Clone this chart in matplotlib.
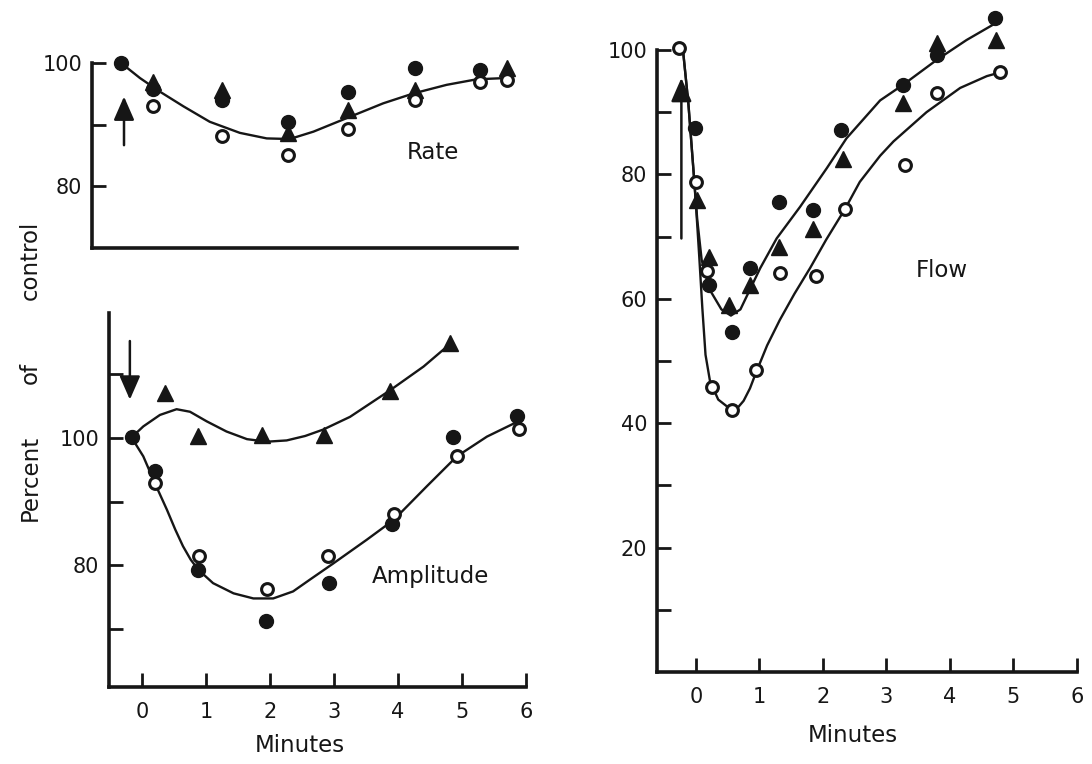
import matplotlib
matplotlib.use("Agg")
import matplotlib.pyplot as plt

# ------------------------------------------------------------
# Percent of control vs minutes: Rate, Amplitude, Flow
# values
# ------------------------------------------------------------

# --- Rate (top left) ---
rate_t_filled = [-0.32, 0.18, 1.25, 2.29, 3.22, 4.27, 5.28]
rate_filled = [100.0, 95.8, 94.1, 90.5, 95.4, 99.2, 98.9]
rate_t_tri = [0.18, 1.25, 2.29, 3.22, 4.27, 5.70]
rate_tri = [97.0, 95.7, 88.7, 92.4, 95.7, 99.2]
rate_t_open = [0.18, 1.25, 2.29, 3.22, 4.27, 5.28, 5.70]
rate_open = [93.0, 88.2, 85.1, 89.3, 94.1, 97.0, 97.3]
rate_curve_t = [-0.32, -0.03, 0.28, 0.65, 1.06, 1.53, 1.95, 2.31, 2.68, 3.20,
                3.77, 4.24, 4.76, 5.23, 5.67]
rate_curve = [100.0, 97.6, 95.4, 93.0, 90.5, 88.7, 87.8, 87.7, 88.9, 91.1,
              93.5, 95.1, 96.5, 97.4, 97.6]
rate_arrow = [-0.28, 86.7, 94.6]  # x, tail, tip

# --- Amplitude (bottom left) ---
amp_t_tri = [0.36, 0.88, 1.87, 2.84, 3.87, 4.82]
amp_tri = [107.1, 100.3, 100.5, 100.4, 107.4, 114.9]
amp_t_filled = [-0.16, 0.21, 0.87, 1.93, 2.92, 3.91, 4.86, 5.86]
amp_filled = [100.1, 94.8, 79.2, 71.2, 77.3, 86.5, 100.1, 103.4]
amp_t_open = [0.21, 0.89, 1.95, 2.91, 3.93, 4.92, 5.89]
amp_open = [92.9, 81.4, 76.3, 81.4, 88.1, 97.1, 101.4]
amp_up_t = [-0.16, 0.02, 0.28, 0.54, 0.75, 1.01, 1.32, 1.64, 1.95, 2.26,
            2.55, 2.83, 3.25, 3.88, 4.40, 4.82]
amp_up = [100.1, 101.8, 103.6, 104.5, 104.1, 102.6, 101.0, 99.8, 99.4, 99.6,
          100.3, 101.3, 103.3, 107.5, 111.2, 114.8]
amp_low_t = [-0.16, 0.02, 0.20, 0.39, 0.52, 0.64, 0.76, 0.88, 1.11, 1.43,
             1.74, 2.05, 2.36, 2.63, 2.99, 3.51, 3.93, 4.45, 4.92, 5.39, 5.88]
amp_low = [100.0, 97.1, 92.9, 88.7, 85.6, 83.0, 80.9, 79.3, 77.2, 75.6,
           74.8, 74.8, 75.9, 77.8, 80.3, 84.0, 87.1, 92.4, 97.1, 100.2, 102.6]
amp_arrow = [-0.19, 115.2, 106.0]

# --- Flow (right) ---
flow_t_open = [-0.26, 0.0, 0.18, 0.25, 0.56, 0.94, 1.32, 1.89, 2.35, 3.29, 3.79, 4.79]
flow_open = [100.3, 78.8, 64.4, 45.8, 42.1, 48.5, 64.1, 63.7, 74.5, 81.5, 93.1, 96.4]
flow_t_filled = [-0.02, 0.20, 0.56, 0.85, 1.31, 1.84, 2.28, 3.26, 3.79, 4.71]
flow_filled = [87.4, 62.2, 54.7, 64.9, 75.5, 74.2, 87.1, 94.4, 99.2, 105.1]
flow_t_tri = [0.02, 0.20, 0.52, 0.85, 1.30, 1.85, 2.31, 3.26, 3.79, 4.72]
flow_tri = [75.9, 66.7, 59.0, 62.2, 68.4, 71.3, 82.4, 91.4, 101.2, 101.6]
flow_up_t = [-0.25, -0.20, -0.12, -0.04, 0.02, 0.09, 0.22, 0.40, 0.55, 0.70,
             0.85, 1.01, 1.27, 1.64, 2.06, 2.37, 2.90, 3.26, 3.79, 4.26, 4.70]
flow_up = [100.2, 99.5, 91.4, 80.7, 72.7, 66.2, 61.4, 58.3, 57.3, 58.3,
           61.5, 64.9, 69.7, 74.8, 81.0, 85.8, 91.9, 94.4, 98.4, 101.6, 104.2]
flow_low_t = [-0.25, -0.20, -0.12, -0.04, 0.0, 0.05, 0.10, 0.15, 0.22, 0.35,
              0.55, 0.65, 0.75, 0.85, 0.94, 1.12, 1.32, 1.55, 1.80, 2.05,
              2.35, 2.58, 2.90, 3.11, 3.63, 4.16, 4.58, 4.79]
flow_low = [100.2, 99.5, 91.4, 80.7, 75.0, 67.0, 58.5, 51.0, 46.8, 43.8,
            42.2, 42.4, 43.6, 45.6, 48.0, 52.5, 56.6, 60.8, 65.0, 69.5,
            74.5, 78.8, 83.0, 85.3, 90.0, 93.9, 95.8, 96.4]
flow_arrow = [-0.23, 69.7, 95.5]

minutes_ticks = [0, 1, 2, 3, 4, 5, 6]

INK = "#161616"
W, H = 1092, 764


def eje(fig, px_left, px_top, px_right, px_bottom):
    # axes from pixel box of the scan
    return fig.add_axes([px_left / W, 1 - px_bottom / H,
                         (px_right - px_left) / W, (px_bottom - px_top) / H])


def preparar(ax, xlim, ylim, yticks, ylabels, xticks=None):
    ax.set_xlim(*xlim)
    ax.set_ylim(*ylim)
    for s in ("top", "right"):
        ax.spines[s].set_visible(False)
    for s in ("left", "bottom"):
        ax.spines[s].set_linewidth(2.6)
        ax.spines[s].set_color(INK)
    ax.set_yticks(yticks)
    ax.set_yticklabels(ylabels)
    ax.tick_params(axis="y", direction="in", length=10, width=2, pad=7,
                   labelsize=15, colors=INK)
    if xticks:
        ax.set_xticks(xticks)
        ax.set_xticklabels([str(t) for t in xticks])
        ax.tick_params(axis="x", direction="in", length=10, width=2, pad=11,
                       labelsize=15, colors=INK)
    else:
        ax.set_xticks([])
    ax.patch.set_alpha(0)


def puntos(ax, t, v, tipo):
    if tipo == "filled":
        ax.plot(t, v, "o", ms=10, color=INK, clip_on=False, zorder=4)
    elif tipo == "tri":
        ax.plot(t, v, "^", ms=11, color=INK, clip_on=False, zorder=4)
    else:
        ax.plot(t, v, "o", ms=8.5, mfc="white", mec=INK, mew=2.2,
                clip_on=False, zorder=5)


def curva(ax, t, v):
    ax.plot(t, v, "-", lw=1.7, color=INK, clip_on=False, zorder=3,
            solid_joinstyle="round")


def flecha(ax, datos):
    x, cola, punta = datos
    ax.annotate("", xy=(x, punta), xytext=(x, cola), annotation_clip=False,
                arrowprops=dict(arrowstyle="-|>,head_length=0.8,head_width=0.35",
                                lw=1.8, color=INK, shrinkA=0, shrinkB=0,
                                mutation_scale=18))


def main():
    plt.rcParams["font.family"] = ["DejaVu Sans"]
    fig = plt.figure(figsize=(W / 100, H / 100), dpi=100)
    fig.patch.set_facecolor("white")

    # Rate
    ax_r = eje(fig, 92, 63.3, 517, 248)
    preparar(ax_r, (-0.78, 5.86), (70, 100), [80, 90, 100], ["80", "", "100"])
    curva(ax_r, rate_curve_t, rate_curve)
    puntos(ax_r, rate_t_filled, rate_filled, "filled")
    puntos(ax_r, rate_t_tri, rate_tri, "tri")
    puntos(ax_r, rate_t_open, rate_open, "open")
    flecha(ax_r, rate_arrow)
    ax_r.text(4.55, 85.5, "Rate", ha="center", va="center", fontsize=16.5, color=INK)

    # Amplitude
    ax_a = eje(fig, 109, 313, 526, 687)
    preparar(ax_a, (-0.516, 6.0), (60.9, 119.6), [70, 80, 90, 100, 110],
             ["", "80", "", "100", ""], minutes_ticks)
    curva(ax_a, amp_up_t, amp_up)
    curva(ax_a, amp_low_t, amp_low)
    puntos(ax_a, amp_t_filled, amp_filled, "filled")
    puntos(ax_a, amp_t_tri, amp_tri, "tri")
    puntos(ax_a, amp_t_open, amp_open, "open")
    flecha(ax_a, amp_arrow)
    ax_a.text(4.5, 78.2, "Amplitude", ha="center", va="center", fontsize=16.5, color=INK)

    # Flow
    ax_f = eje(fig, 657, 50, 1077, 672)
    preparar(ax_f, (-0.614, 6.0), (0, 100), list(range(10, 101, 10)),
             ["", "20", "", "40", "", "60", "", "80", "", "100"], minutes_ticks)
    curva(ax_f, flow_up_t, flow_up)
    curva(ax_f, flow_low_t, flow_low)
    puntos(ax_f, flow_t_filled, flow_filled, "filled")
    puntos(ax_f, flow_t_tri, flow_tri, "tri")
    puntos(ax_f, flow_t_open, flow_open, "open")
    flecha(ax_f, flow_arrow)
    ax_f.text(3.87, 64.6, "Flow", ha="center", va="center", fontsize=16.5, color=INK)

    # shared labels
    fig.text(300 / W, 1 - 745 / H, "Minutes", ha="center", va="center",
             fontsize=16.5, color=INK)
    fig.text(853 / W, 1 - 735 / H, "Minutes", ha="center", va="center",
             fontsize=16.5, color=INK)
    for palabra, py in (("Percent", 478), ("of", 373), ("control", 260)):
        fig.text(30 / W, 1 - py / H, palabra, rotation=90, ha="center",
                 va="center", fontsize=16.5, color=INK)

    fig.savefig("out.png", dpi=100, facecolor="white")
    plt.close(fig)


if __name__ == "__main__":
    main()
